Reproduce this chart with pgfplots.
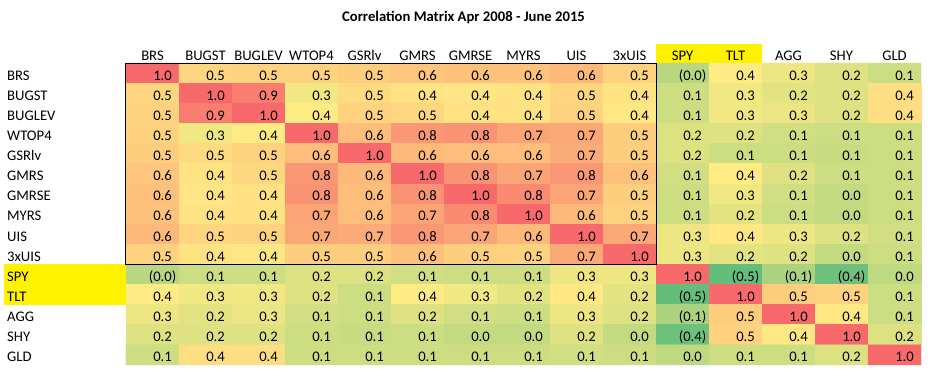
\documentclass[border=0pt]{standalone}
\usepackage{pgfplots}
\pgfplotsset{compat=1.18}
\usepackage{pgfplotstable}
\usepackage{fontspec}
\setmainfont{Carlito}
\pgfkeys{/pgf/number format/assume math mode=true}
\newcommand\fs{\fontsize{14.67}{17}\selectfont}
\def\mylab{\expandafter\mylabi\pgfplotspointmeta\relax}
\def\mylabi#1#2\relax{\ifx-#1(\pgfmathprintnumber[fixed,fixed zerofill,precision=1]{#2})\else\pgfmathprintnumber[fixed,fixed zerofill,precision=1]{#1#2}\phantom{)}\fi}
% 15x15 correlation matrix, row by row (BRS ... GLD)
\pgfplotstableread[row sep=\\]{
v\\
1.00\\ 0.48\\ 0.50\\ 0.50\\ 0.52\\ 0.56\\ 0.58\\ 0.57\\ 0.62\\ 0.50\\ -0.02\\ 0.38\\ 0.28\\ 0.20\\ 0.10\\
0.48\\ 1.00\\ 0.90\\ 0.30\\ 0.46\\ 0.42\\ 0.41\\ 0.42\\ 0.48\\ 0.42\\ 0.10\\ 0.30\\ 0.23\\ 0.20\\ 0.44\\
0.50\\ 0.90\\ 1.00\\ 0.38\\ 0.50\\ 0.47\\ 0.42\\ 0.42\\ 0.50\\ 0.40\\ 0.10\\ 0.30\\ 0.27\\ 0.20\\ 0.44\\
0.50\\ 0.30\\ 0.38\\ 1.00\\ 0.60\\ 0.78\\ 0.80\\ 0.72\\ 0.70\\ 0.52\\ 0.18\\ 0.20\\ 0.12\\ 0.10\\ 0.10\\
0.52\\ 0.46\\ 0.50\\ 0.60\\ 1.00\\ 0.62\\ 0.60\\ 0.60\\ 0.68\\ 0.52\\ 0.18\\ 0.10\\ 0.10\\ 0.08\\ 0.10\\
0.56\\ 0.42\\ 0.47\\ 0.78\\ 0.62\\ 1.00\\ 0.80\\ 0.72\\ 0.78\\ 0.58\\ 0.12\\ 0.38\\ 0.20\\ 0.10\\ 0.10\\
0.58\\ 0.41\\ 0.42\\ 0.80\\ 0.60\\ 0.80\\ 1.00\\ 0.84\\ 0.72\\ 0.52\\ 0.10\\ 0.30\\ 0.12\\ 0.04\\ 0.10\\
0.57\\ 0.42\\ 0.42\\ 0.72\\ 0.60\\ 0.72\\ 0.84\\ 1.00\\ 0.62\\ 0.50\\ 0.10\\ 0.22\\ 0.10\\ 0.04\\ 0.10\\
0.62\\ 0.48\\ 0.50\\ 0.70\\ 0.68\\ 0.78\\ 0.72\\ 0.62\\ 1.00\\ 0.70\\ 0.28\\ 0.40\\ 0.28\\ 0.20\\ 0.12\\
0.50\\ 0.42\\ 0.40\\ 0.52\\ 0.52\\ 0.58\\ 0.52\\ 0.50\\ 0.70\\ 1.00\\ 0.28\\ 0.22\\ 0.20\\ 0.04\\ 0.10\\
-0.02\\ 0.10\\ 0.10\\ 0.18\\ 0.18\\ 0.12\\ 0.10\\ 0.10\\ 0.28\\ 0.28\\ 1.00\\ -0.50\\ -0.10\\ -0.44\\ 0.02\\
0.38\\ 0.30\\ 0.30\\ 0.20\\ 0.10\\ 0.38\\ 0.30\\ 0.22\\ 0.40\\ 0.22\\ -0.50\\ 1.00\\ 0.52\\ 0.50\\ 0.10\\
0.28\\ 0.23\\ 0.27\\ 0.12\\ 0.10\\ 0.20\\ 0.12\\ 0.10\\ 0.28\\ 0.20\\ -0.10\\ 0.52\\ 1.00\\ 0.40\\ 0.10\\
0.20\\ 0.20\\ 0.20\\ 0.10\\ 0.08\\ 0.10\\ 0.04\\ 0.04\\ 0.20\\ 0.04\\ -0.44\\ 0.50\\ 0.40\\ 1.00\\ 0.18\\
0.10\\ 0.44\\ 0.44\\ 0.10\\ 0.10\\ 0.10\\ 0.10\\ 0.10\\ 0.12\\ 0.10\\ 0.02\\ 0.10\\ 0.10\\ 0.18\\ 1.00\\
}\corr
\pgfplotstablecreatecol[expr={\pgfplotstablerow}]{i}\corr
\def\cx{\the\numexpr\coordindex-15*((\coordindex-7)/15)\relax}
\def\cy{-\the\numexpr(\coordindex-7)/15\relax}
\begin{document}
\begin{tikzpicture}[font=\fs]
\path[use as bounding box] (0,0) rectangle (938pt,376pt);
\fill[yellow] (4pt,71.4pt) rectangle (126pt,111.7pt);
\fill[yellow] (656pt,313pt) rectangle (762pt,332pt);
\node[font=\fs\bfseries] at (463.5pt,359pt) {Correlation Matrix Apr 2008 - June 2015};
\begin{axis}[at={(126pt,313pt)}, anchor=north west, scale only axis,
  x=53pt, y=20.13pt,
  xmin=-0.5, xmax=14.5, ymin=-14.5, ymax=0.5,
  axis line style={draw=none}, major tick length=0pt,
  xtick={0,...,14},
  xticklabels={BRS,BUGST,BUGLEV,WTOP4,GSRlv,GMRS,GMRSE,MYRS,UIS,3xUIS,SPY,TLT,AGG,SHY,GLD},
  xticklabel pos=right,
  xticklabel style={anchor=base, inner sep=0pt, yshift=3pt, font=\fs},
  ytick={-14,...,0},
  yticklabels={GLD,SHY,AGG,TLT,SPY,3xUIS,UIS,MYRS,GMRSE,GMRS,GSRlv,WTOP4,BUGLEV,BUGST,BRS},
  yticklabel style={anchor=base west, inner sep=0pt, xshift=-119pt, yshift=-7pt, font=\fs},
  point meta min=-0.5, point meta max=1,
  colormap={gyr}{rgb255(0pt)=(99,190,123); rgb255(88pt)=(255,235,132); rgb255(150pt)=(248,105,107)},
  clip=false]
\addplot[matrix plot*, mesh/cols=15, point meta=explicit]
  table[x expr={\cx}, y expr={\cy}, meta=v]{\corr};
\addplot[draw=none, mark=none, point meta=explicit symbolic,
  nodes near coords={\mylab},
  every node near coord/.append style={anchor=base east, inner sep=0pt, xshift=24pt, yshift=-7pt, text=black, font=\fs}]
  table[x expr={\cx}, y expr={\cy}, meta=v]{\corr};
\draw[line width=1pt] (axis cs:-0.5,0.5) rectangle (axis cs:9.5,-9.5);
\end{axis}
\end{tikzpicture}
\end{document}
